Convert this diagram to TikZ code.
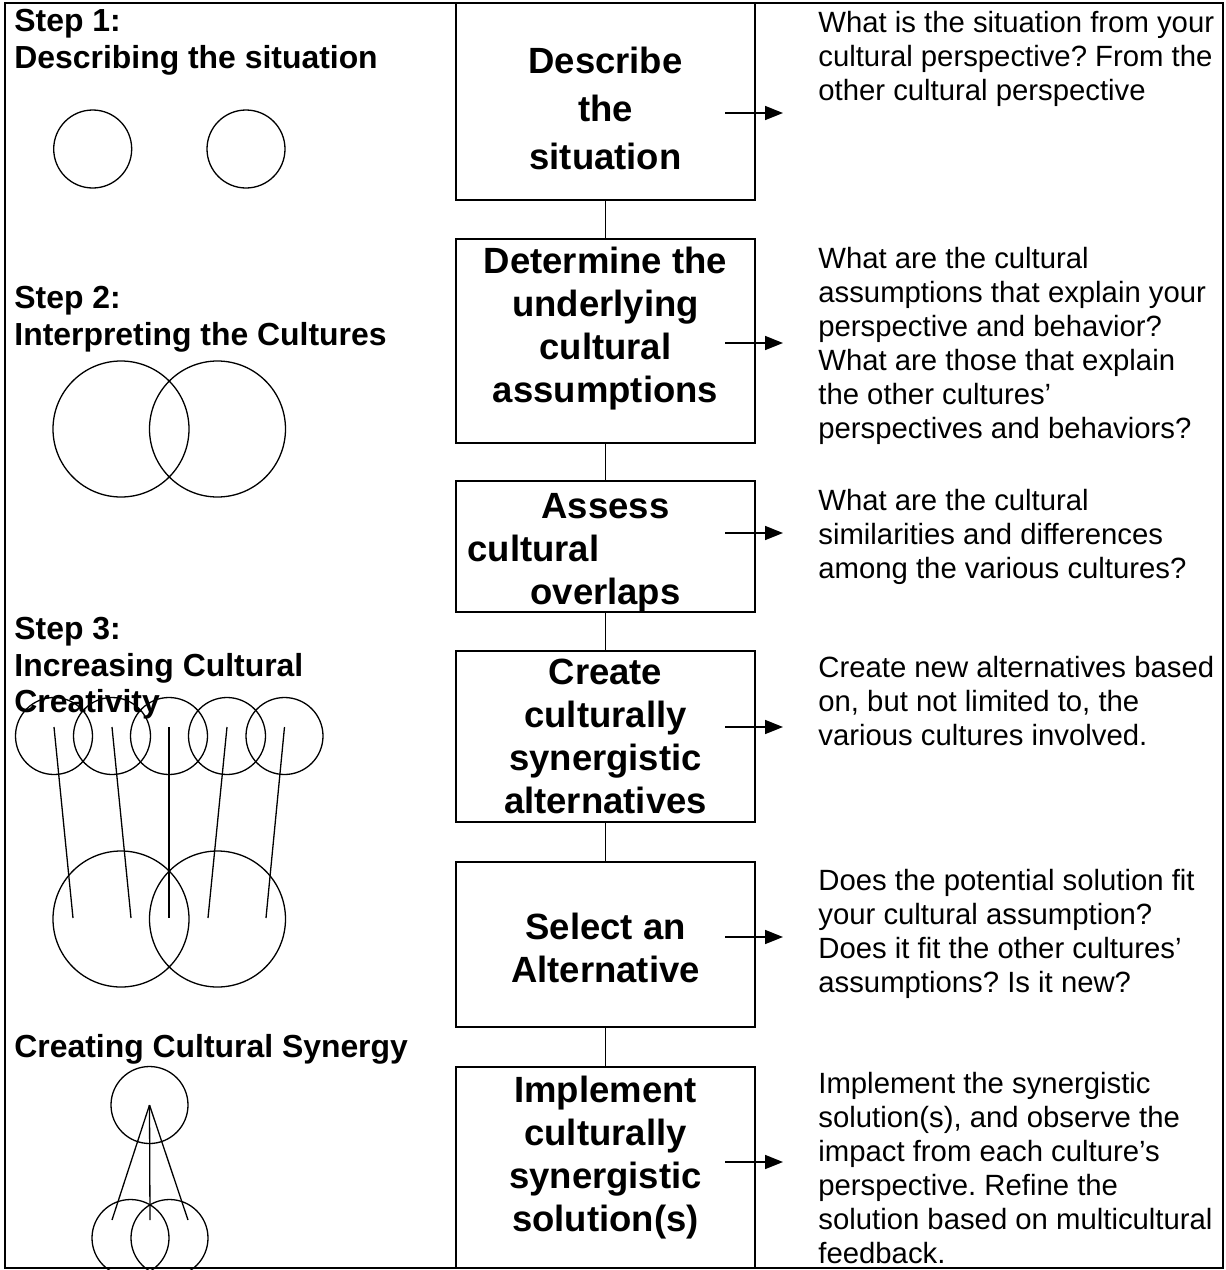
\documentclass[tikz,border=0pt]{standalone}
\usepackage{fontspec}
\setmainfont{Liberation Sans}
\usetikzlibrary{arrows.meta, calc}
\frenchspacing

\newcommand{\dropby}[1]{\rule[-#1]{0pt}{0pt}}
\newcommand{\liftto}[1]{\rule{0pt}{#1}}

\tikzset{
  >={Triangle[length=9pt, width=7pt]},
  %
  stepbox/.style={draw, line width=1pt, align=center, inner sep=0pt,
    minimum width=149.5pt, font=\fontsize{18.25}{21.5}\selectfont\bfseries},
  %
  steplbl/.style={anchor=north west, inner sep=0pt, align=left,
    font=\fontsize{15.95}{18.25}\selectfont\bfseries},
  qtext/.style={anchor=north west, inner sep=0pt, align=left,
    font=\fontsize{14.65}{17}\selectfont},
  %
  ring/.style={draw, circle, line width=0.65pt, inner sep=0pt},
  spoke/.style={line width=0.65pt},
  link/.style={line width=0.9pt},
  flow/.style={line width=0.85pt, ->, shorten >=17.5pt},
  frame/.style={line width=1pt},
}

\begin{document}
\begin{tikzpicture}[x=0.5pt, y=-0.5pt]
  \useasboundingbox (0,0) rectangle (1226,1270);
  \clip (0,0) rectangle (1226,1270);

  % outer frame
  \draw[frame] (5,3) rectangle (1223,1268);

  % =====================================================================
  % middle column: the steps
  % =====================================================================
  \node[stepbox, minimum height=98.5pt,
        font=\fontsize{18.25}{24}\selectfont\bfseries] (b1) at (605.5,101.5)
    {\liftto{20.3pt}Describe\\the\\situation};
  \node[stepbox, minimum height=102pt] (b2) at (605.5,341)
    {Determine the\\underlying\\cultural\\assumptions\dropby{15.8pt}};
  \node[stepbox, minimum height=64.5pt] (b3) at (605.5,546.5)
    {\liftto{18.3pt}Assess\\cultural\hspace*{72pt}\mbox{}\\overlaps};
  \node[stepbox, minimum height=85.5pt] (b4) at (605.5,736.5)
    {Create\\culturally\\synergistic\\alternatives};
  \node[stepbox, minimum height=82.5pt] (b5) at (605.5,944.5)
    {\liftto{16.3pt}Select an\\Alternative};
  \node[stepbox, minimum height=100.5pt] (b6) at (605.5,1167.5)
    {Implement\\culturally\\synergistic\\solution(s)\dropby{14pt}};

  \foreach \a/\b in {b1/b2, b2/b3, b3/b4, b4/b5, b5/b6} {
    \draw[link] (\a) -- (\b);
  }

  % =====================================================================
  % right column: the questions
  % =====================================================================
  \node[qtext] (q1) at (818,10.6)
    {What is the situation from your\\cultural perspective? From the\\other cultural perspective};
  \node[qtext] (q2) at (818,246.6)
    {What are the cultural\\assumptions that explain your\\perspective and behavior?\\What are those that explain\\the other cultures'\\perspectives and behaviors?};
  \node[qtext] (q3) at (818,488.6)
    {What are the cultural\\similarities and differences\\among the various cultures?};
  \node[qtext] (q4) at (818,655.6)
    {Create new alternatives based\\on, but not limited to, the\\various cultures involved.};
  \node[qtext] (q5) at (818,868.6)
    {Does the potential solution fit\\your cultural assumption?\\Does it fit the other cultures'\\assumptions? Is it new?};
  \node[qtext] (q6) at (818,1071.6)
    {Implement the synergistic\\solution(s), and observe the\\impact from each culture's\\perspective. Refine the\\solution based on multicultural\\feedback.};

  \foreach \i/\y in {1/113, 2/343, 3/533, 4/727, 5/937, 6/1162} {
    \coordinate (a\i) at (725,\y);
    \draw[flow] (a\i) -- (q\i.west |- a\i);
  }

  % =====================================================================
  % left column: stages and circles
  % =====================================================================
  \node[steplbl] (s1) at (14,9) {Step 1:\\Describing the situation};
  \node[steplbl] (s2) at (14,286) {Step 2:\\Interpreting the Cultures};
  \node[steplbl] (s3) at (14,617) {Step 3:\\Increasing Cultural\\Creativity};
  \node[steplbl] (s4) at (14,1034) {Creating Cultural Synergy};

  % step 1: two apart
  \node[ring, minimum size=39pt] (c1a) at (92.7,149) {};
  \node[ring, minimum size=39pt] (c1b) at (246,149) {};

  % step 2: overlapping
  \node[ring, minimum size=68pt] (c2a) at (121,429) {};
  \node[ring, minimum size=68pt] (c2b) at (217.5,429) {};

  % step 3: many ideas into the overlap
  \foreach \i/\cx in {1/54, 2/112, 3/169, 4/227, 5/284.5} {
    \node[ring, minimum size=38.5pt] (c3t\i) at (\cx,736) {};
  }
  \node[ring, minimum size=68pt] (c3b1) at (121,919) {};
  \node[ring, minimum size=68pt] (c3b2) at (217.5,919) {};
  \foreach \i/\bx in {1/73, 2/131, 3/169, 4/208, 5/266} {
    \coordinate (p\i) at (\bx,918);
    \draw[spoke] ([yshift=4.5pt]c3t\i.center) -- (p\i);
  }

  % synergy
  \node[ring, minimum size=38.5pt] (c4t) at (149.5,1105) {};
  \node[ring, minimum size=38.5pt] (c4b1) at (130.5,1238) {};
  \node[ring, minimum size=38.5pt] (c4b2) at (169.5,1238) {};
  \foreach \i/\bx in {1/112, 2/150, 3/188} {
    \coordinate (r\i) at (\bx,1220);
    \draw[spoke] (c4t.center) -- (r\i);
  }

\end{tikzpicture}
\end{document}
